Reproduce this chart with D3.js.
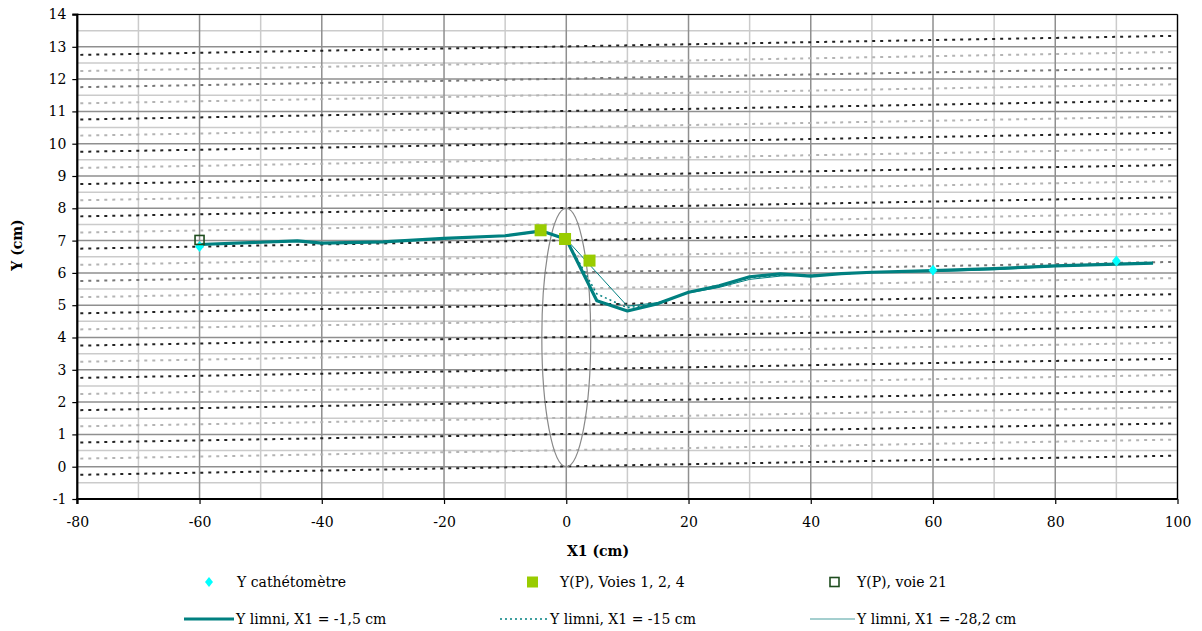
<!DOCTYPE html>
<html><head><meta charset="utf-8">
<script src="https://cdn.jsdelivr.net/npm/d3@7/dist/d3.min.js"></script>
<style>body{margin:0;background:#fff}svg{display:block}text{font-family:"DejaVu Serif",serif;fill:#000}</style>
</head><body><svg id="c" width="1202" height="631"></svg>
<script>
// ---- data ----
const xTicks = [-80,-60,-40,-20,0,20,40,60,80,100];
const yTicks = [-1,0,1,2,3,4,5,6,7,8,9,10,11,12,13,14];
const cathX = [-60, 60, 90];
const cathY = [6.82, 6.08, 6.37];
const voiesX = [-4.2, -0.2, 3.8];
const voiesY = [7.32, 7.05, 6.38];
const voie21X = [-60];
const voie21Y = [7.02];
const limniAX = [-60,-44,-40,-30,-20,-10,-4,0,5,10,15,20,25,30,35,40,45,50,60,70,80,90,96];
const limniAY = [6.88,6.99,6.92,6.96,7.07,7.15,7.3,7.04,5.14,4.82,5.05,5.4,5.6,5.88,5.97,5.9,5.98,6.02,6.07,6.13,6.22,6.27,6.3];
const limniBX = [-60,-44,-40,-30,-20,-10,-4,0,5,10,15,20,25,30,35,40,45,50,60,70,80,90,96];
const limniBY = [6.88,6.98,6.93,6.96,7.06,7.15,7.29,7.04,5.35,4.92,5.05,5.4,5.58,5.85,5.93,5.92,5.97,6.02,6.07,6.12,6.21,6.27,6.3];
const limniCX = [-60,-44,-40,-30,-20,-10,-4,0,10,15,20,25,30,35,40,45,50,60,70,80,90,96];
const limniCY = [6.87,6.98,6.93,6.95,7.06,7.14,7.28,7.04,4.97,5.08,5.38,5.55,5.8,5.9,5.93,5.97,6.01,6.04,6.1,6.2,6.26,6.3];
const streamX = [-80, 100];
const streamLeft  = [-0.25,0.25,0.75,1.25,1.75,2.25,2.75,3.25,3.75,4.25,4.75,5.25,5.75,6.25,6.75,7.25,7.75,8.25,8.75,9.25,9.75,10.25,10.75,11.25,11.75,12.25,12.75];
const streamRight = [0.34,0.84,1.34,1.84,2.34,2.84,3.34,3.84,4.34,4.84,5.34,5.84,6.34,6.84,7.34,7.84,8.34,8.84,9.34,9.84,10.34,10.84,11.34,11.84,12.34,12.84,13.34];
const streamTone  = ["k","l","k","l","k","l","k","l","k","l","k","l","m","l","k","l","k","l","k","l","k","l","k","l","m","l","k"];
const ellipse = {cx:0, cy:4, rx:4, ry:4};
const legendLabels = ["Y cathétomètre","Y(P), Voies 1, 2, 4","Y(P), voie 21","Y limni, X1 = -1,5 cm","Y limni, X1 = -15 cm","Y limni, X1 = -28,2 cm"];

// ---- drawing ----
const FONT = "DejaVu Serif";
const svg = d3.select("#c");
const L=77.3, R=1177.5, T=14.5, B=499;
const x = d3.scaleLinear().domain([-80,100]).range([L,R]);
const y = d3.scaleLinear().domain([-1,14]).range([B,T]);
const teal="#008080";

const g = svg.append("g");
// minor grid
d3.range(-70,100,20).forEach(v=>g.append("line").attr("x1",x(v)).attr("x2",x(v)).attr("y1",T).attr("y2",B).attr("stroke","#cbcbcb").attr("stroke-width",1.5));
d3.range(-0.5,14,1).forEach(v=>g.append("line").attr("x1",L).attr("x2",R).attr("y1",y(v)).attr("y2",y(v)).attr("stroke","#cbcbcb").attr("stroke-width",1.5));
// major grid
xTicks.forEach(v=>g.append("line").attr("x1",x(v)).attr("x2",x(v)).attr("y1",T).attr("y2",B).attr("stroke","#8f8f8f").attr("stroke-width",1.5));
yTicks.forEach(v=>g.append("line").attr("x1",L).attr("x2",R).attr("y1",y(v)).attr("y2",y(v)).attr("stroke","#8f8f8f").attr("stroke-width",1.5));

// stream dotted lines
const toneCol={k:"#222",m:"#777",l:"#b4b4b4"};
streamLeft.forEach((v,i)=>{
  g.append("line").attr("x1",x(streamX[0])+3).attr("x2",x(streamX[1])-3)
   .attr("y1",y(v)).attr("y2",y(streamRight[i]))
   .attr("stroke",toneCol[streamTone[i]]).attr("stroke-width",2).attr("stroke-dasharray","3,5");
});

// ellipse
g.append("ellipse").attr("cx",x(ellipse.cx)).attr("cy",y(ellipse.cy))
 .attr("rx",x(ellipse.rx)-x(0)).attr("ry",y(0)-y(ellipse.ry))
 .attr("fill","none").attr("stroke","#888").attr("stroke-width",1.2);

// lines
const line = d3.line().x(d=>x(d[0])).y(d=>y(d[1]));
g.append("path").datum(limniCX.map((v,i)=>[v,limniCY[i]])).attr("d",line).attr("fill","none").attr("stroke",teal).attr("stroke-width",1);
g.append("path").datum(limniBX.map((v,i)=>[v,limniBY[i]])).attr("d",line).attr("fill","none").attr("stroke",teal).attr("stroke-width",1.5).attr("stroke-dasharray","2,3");
g.append("path").datum(limniAX.map((v,i)=>[v,limniAY[i]])).attr("d",line).attr("fill","none").attr("stroke",teal).attr("stroke-width",3.2).attr("stroke-linejoin","round");

// markers
const diamond=(cx,cy,s)=>`M${cx},${cy-s}L${cx+s*0.8},${cy}L${cx},${cy+s}L${cx-s*0.8},${cy}Z`;
cathX.forEach((v,i)=>g.append("path").attr("d",diamond(x(v),y(cathY[i]),5.5)).attr("fill","#00ffff"));
voiesX.forEach((v,i)=>g.append("rect").attr("x",x(v)-6).attr("y",y(voiesY[i])-6).attr("width",12).attr("height",12).attr("fill","#99cc00"));
voie21X.forEach((v,i)=>g.append("rect").attr("x",x(v)-4.5).attr("y",y(voie21Y[i])-4.5).attr("width",9).attr("height",9).attr("fill","none").attr("stroke","#1e4d1e").attr("stroke-width",1.6));

// frame
g.append("line").attr("x1",L).attr("x2",R).attr("y1",T).attr("y2",T).attr("stroke","#000").attr("stroke-width",1.2);
g.append("line").attr("x1",R).attr("x2",R).attr("y1",T).attr("y2",B).attr("stroke","#000").attr("stroke-width",1.2);

// axes
const fmt = d => String(d);
const ax = svg.append("g").attr("transform",`translate(0,${B})`)
  .call(d3.axisBottom(x).tickValues(xTicks).tickSize(5).tickPadding(10).tickFormat(fmt));
const ay = svg.append("g").attr("transform",`translate(${L},0)`)
  .call(d3.axisLeft(y).tickValues(yTicks).tickSize(5).tickPadding(6).tickFormat(fmt));
[ax,ay].forEach(a=>{
  a.attr("font-family",FONT);
  a.select(".domain").attr("stroke","#000").attr("stroke-width",2.2);
  a.selectAll(".tick line").attr("stroke","#000").attr("stroke-width",1.2);
  a.selectAll(".tick text").attr("font-family",FONT).attr("font-size",14).attr("fill","#000");
});
ax.selectAll(".tick text").attr("dy","0.95em");
ay.select(".domain").attr("d",`M-5,${T}H0V${B}`);
ax.select(".domain").attr("d",`M${L},5V0H${R}`);

svg.append("text").attr("x",598).attr("y",556).attr("text-anchor","middle").attr("font-weight","bold").attr("font-size",14).text("X1 (cm)");
svg.append("text").attr("transform","translate(22,245) rotate(-90)").attr("text-anchor","middle").attr("font-weight","bold").attr("font-size",14).text("Y (cm)");

// legend
const lg = svg.append("g");
const r1=582, r2=619;
lg.append("path").attr("d",diamond(209,r1,5)).attr("fill","#00ffff");
lg.append("rect").attr("x",527).attr("y",r1-5.5).attr("width",11).attr("height",11).attr("fill","#99cc00");
lg.append("rect").attr("x",830).attr("y",r1-4.5).attr("width",9).attr("height",9).attr("fill","none").attr("stroke","#1e4d1e").attr("stroke-width",1.6);
lg.append("line").attr("x1",184).attr("x2",234).attr("y1",r2).attr("y2",r2).attr("stroke",teal).attr("stroke-width",3);
lg.append("line").attr("x1",500).attr("x2",548).attr("y1",r2).attr("y2",r2).attr("stroke",teal).attr("stroke-width",1.5).attr("stroke-dasharray","2,3");
lg.append("line").attr("x1",810).attr("x2",855).attr("y1",r2).attr("y2",r2).attr("stroke","#4a9f9f").attr("stroke-width",1);
const lpos=[[237,r1],[560,r1],[857,r1],[236,r2],[550,r2],[857,r2]];
legendLabels.forEach((t,i)=>lg.append("text").attr("x",lpos[i][0]).attr("y",lpos[i][1]).attr("dy","0.35em").attr("font-size",14).text(t));
</script></body></html>
